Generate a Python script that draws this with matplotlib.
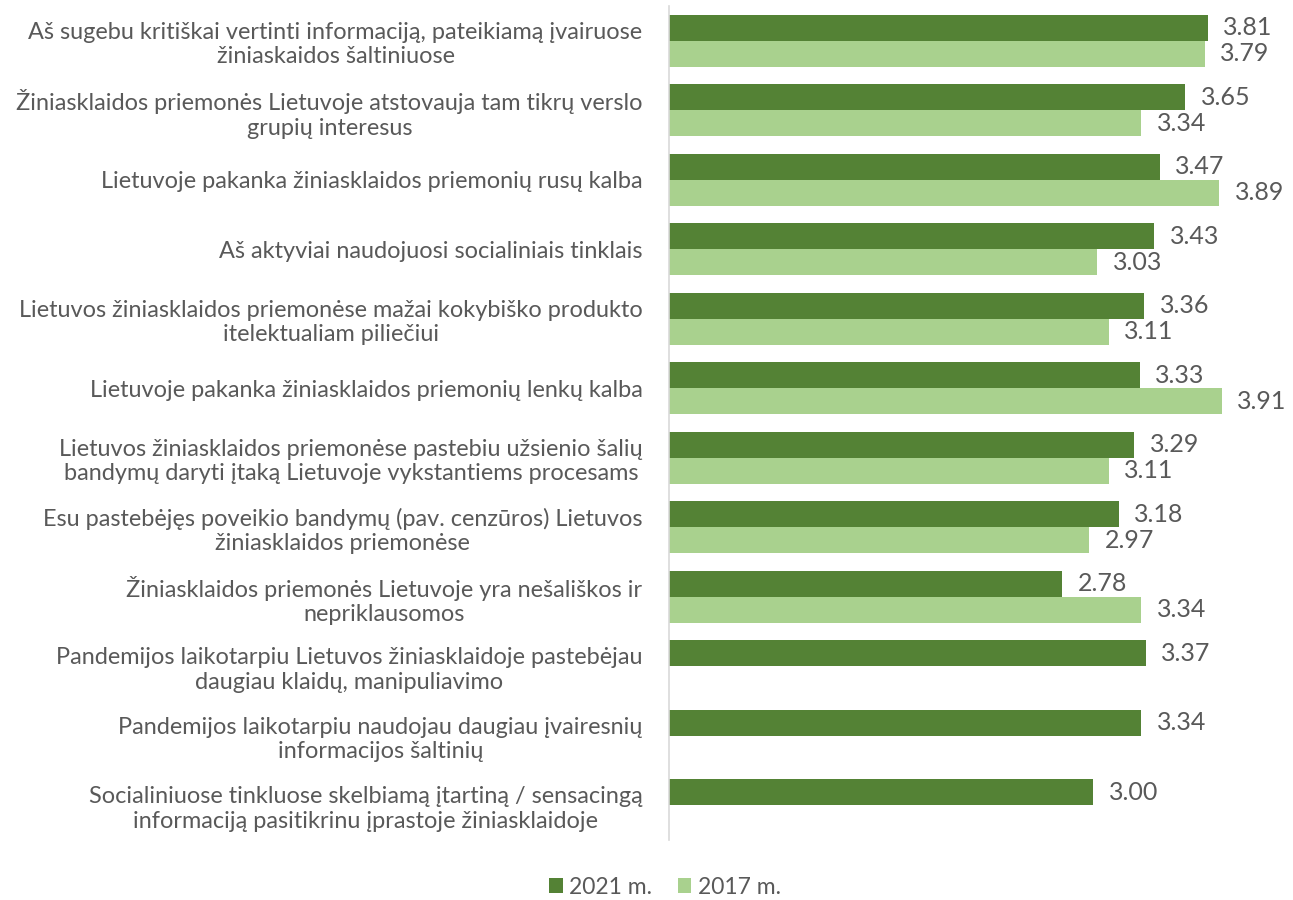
import matplotlib
matplotlib.use("Agg")
import matplotlib.pyplot as plt
import numpy as np

categories = [
    "Aš sugebu kritiškai vertinti informaciją, pateikiamą įvairuose\nžiniaskaidos šaltiniuose",
    "Žiniasklaidos priemonės Lietuvoje atstovauja tam tikrų verslo\ngrupių interesus",
    "Lietuvoje pakanka žiniasklaidos priemonių rusų kalba",
    "Aš aktyviai naudojuosi socialiniais tinklais",
    "Lietuvos žiniasklaidos priemonėse mažai kokybiško produkto\nitelektualiam piliečiui",
    "Lietuvoje pakanka žiniasklaidos priemonių lenkų kalba",
    "Lietuvos žiniasklaidos priemonėse pastebiu užsienio šalių\nbandymų daryti įtaką Lietuvoje vykstantiems procesams",
    "Esu pastebėjęs poveikio bandymų (pav. cenzūros) Lietuvos\nžiniasklaidos priemonėse",
    "Žiniasklaidos priemonės Lietuvoje yra nešališkos ir\nnepriklausomos",
    "Pandemijos laikotarpiu Lietuvos žiniasklaidoje pastebėjau\ndaugiau klaidų, manipuliavimo",
    "Pandemijos laikotarpiu naudojau daugiau įvairesnių\ninformacijos šaltinių",
    "Socialiniuose tinkluose skelbiamą įtartiną / sensacingą\ninformaciją pasitikrinu įprastoje žiniasklaidoje",
]
values_2021 = [3.81, 3.65, 3.47, 3.43, 3.36, 3.33, 3.29, 3.18, 2.78, 3.37, 3.34, 3.00]
values_2017 = [3.79, 3.34, 3.89, 3.03, 3.11, 3.91, 3.11, 2.97, 3.34, None, None, None]
series_names = ["2021 m.", "2017 m."]

dark = "#548235"
light = "#A9D18E"
txt = "#595959"

plt.rcParams['font.family'] = ['Lato', 'DejaVu Sans']

fig = plt.figure(figsize=(12.93, 9.0), dpi=100)
ax = fig.add_axes([669/1293, 1 - 840/900, (1290-669)/1293, (840-6)/900])

y = np.arange(len(categories))
h = 0.374
v17 = [np.nan if v is None else v for v in values_2017]
b1 = ax.barh(y - h/2, values_2021, height=h, color=dark, label=series_names[0])
b2 = ax.barh(y + h/2, v17, height=h, color=light, label=series_names[1])

for yi, v in zip(y, values_2021):
    ax.text(v + 0.11, yi - h/2, f"{v:.2f}", va='center', ha='left', fontsize=18, color=txt)
for yi, v in zip(y, values_2017):
    if v is not None:
        ax.text(v + 0.11, yi + h/2, f"{v:.2f}", va='center', ha='left', fontsize=18, color=txt)

ax.set_xlim(0, (1290-669)/141.4)
ax.set_ylim(len(categories) - 0.5, -0.5)
ax.set_yticks(y)
ax.set_yticklabels(categories, fontsize=16.9, color=txt, multialignment='center', linespacing=1.2)
ax.tick_params(axis='y', length=0, pad=19)
ax.set_xticks([])
for s in ['top', 'right', 'bottom']:
    ax.spines[s].set_visible(False)
ax.spines['left'].set_color('#D9D9D9')
ax.spines['left'].set_linewidth(1.2)

fig.legend(handles=[b1, b2], labels=series_names, loc='center', bbox_to_anchor=(665/1293, 1 - 887/900),
           ncol=2, frameon=False, fontsize=16.5, labelcolor=txt, handlelength=0.6, handleheight=0.6,
           handletextpad=0.3, columnspacing=1.1, borderpad=0.1)

fig.savefig("out.png", dpi=100)
